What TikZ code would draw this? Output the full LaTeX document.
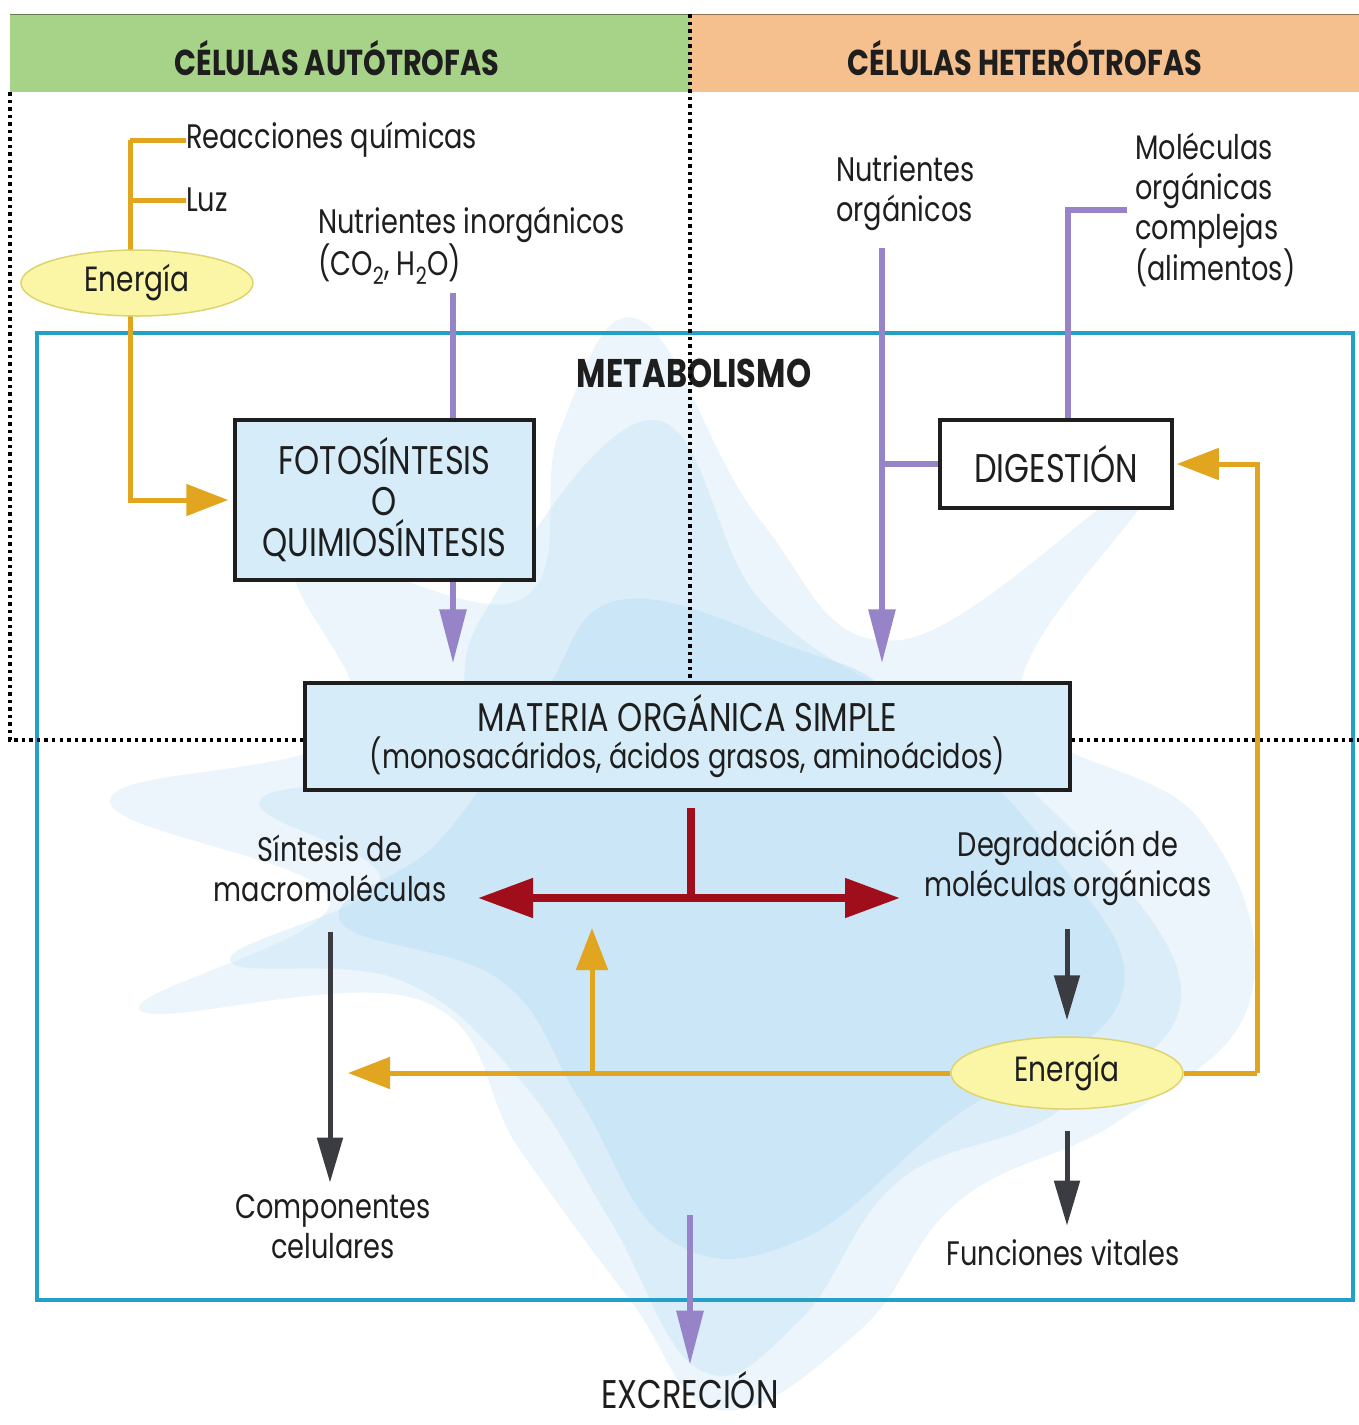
\documentclass[tikz,border=0pt]{standalone}
\usepackage{fontspec}
\setmainfont{Poppins}[FakeStretch=0.8]
\usetikzlibrary{arrows.meta,shapes.geometric}

\definecolor{autogreen}{RGB}{166,211,135}
\definecolor{heteroorange}{RGB}{246,192,142}
\definecolor{energyline}{RGB}{226,165,32}
\definecolor{matterline}{RGB}{150,131,200}
\definecolor{metaframe}{RGB}{34,160,200}
\definecolor{splitred}{RGB}{160,14,28}
\definecolor{flowgray}{RGB}{58,60,66}
\definecolor{energyfill}{RGB}{250,246,165}
\definecolor{energyedge}{RGB}{222,212,110}
\definecolor{cellblue}{RGB}{186,222,244}
\definecolor{boxblue}{RGB}{214,237,249}
\definecolor{inktext}{RGB}{30,30,30}

\newcommand\capsize{\fontsize{40}{41}\selectfont}

\begin{document}
\begin{tikzpicture}[x=1pt,y=-1pt,
  txt/.style={font=\fontsize{34}{40}\selectfont, text=inktext, inner sep=0pt},
  capstxt/.style={font=\capsize, text=inktext, inner sep=0pt},
  headtxt/.style={font=\bfseries\fontsize{36}{40}\selectfont, text=inktext, inner sep=0pt},
  procbox/.style={draw=inktext, line width=3.5pt, fill=boxblue, align=center, text=inktext, inner sep=0pt},
  energy/.style={txt, font=\fontsize{35}{40}\selectfont, ellipse, draw=energyedge,
    fill=energyfill, line width=1.5pt, minimum width=232pt, minimum height=66pt},
  eflow/.style={energyline, line width=5pt},
  mflow/.style={matterline, line width=6pt},
  rflow/.style={splitred, line width=8pt},
  gflow/.style={flowgray, line width=5pt},
  etip/.style={-{Triangle[length=42pt,width=31pt]}},
  mtip/.style={-{Triangle[length=54pt,width=26pt]}},
  rtip/.style={-{Triangle[length=55pt,width=38pt]}},
  gtip/.style={-{Triangle[length=45pt,width=25pt]}},
  dots/.style={black, line width=3.5pt, dash pattern=on 3.5pt off 4pt},
]
\useasboundingbox (0,0) rectangle (1359,1425);
\fill[white] (0,0) rectangle (1359,1425);

% soft cell silhouette behind the scheme, in nested layers
\fill[cellblue, opacity=0.28] plot[smooth cycle, tension=0.7] coordinates {
  (640,320) (760,520) (900,640) (1150,480) (1020,700) (1200,820) (1250,1000)
  (1120,1120) (960,1200) (860,1330) (720,1410) (630,1300) (520,1150) (420,1000)
  (140,1010) (330,900) (110,800) (350,730) (300,560) (520,600) (560,430)};
\fill[cellblue, opacity=0.33] plot[smooth cycle, tension=0.7] coordinates {
  (650,420) (760,600) (900,700) (1000,760) (1180,980) (1060,1110) (900,1180)
  (800,1320) (700,1370) (610,1220) (520,1080) (400,980) (230,960) (380,880)
  (260,800) (450,760) (480,620)};
\fill[cellblue, opacity=0.45] plot[smooth cycle, tension=0.7] coordinates {
  (620,600) (800,650) (900,700) (1050,850) (1120,1000) (950,1120) (800,1240)
  (670,1240) (580,1100) (500,980) (340,920) (440,840) (540,700)};

% column headers
\fill[autogreen] (10,14) rectangle (690,92);
\fill[heteroorange] (690,14) rectangle (1359,92);
\draw[autogreen!60!black, line width=1.5pt] (10,14.5) -- (690,14.5);
\draw[heteroorange!60!black, line width=1.5pt] (690,14.5) -- (1359,14.5);
\node[headtxt] (autohead) at (337,58) {CÉLULAS AUTÓTROFAS};
\node[headtxt] (heterohead) at (1025,58) {CÉLULAS HETERÓTROFAS};

% metabolism frame
\draw[metaframe, line width=4.5pt] (37,333) rectangle (1353,1300);
\node[headtxt, font=\bfseries\fontsize{40}{44}\selectfont] (metab) at (694,373) {METABOLISMO};

% labels
\node[txt, anchor=west] (reac) at (186,140) {Reacciones químicas};
\node[txt, anchor=west] (luz) at (186,200) {Luz};
\node[txt, anchor=west, align=left] (nutinorg) at (318,246)
  {Nutrientes inorgánicos\\(CO\textsubscript{2}, H\textsubscript{2}O)};
\node[txt, anchor=west, align=left] (nutorg) at (836,193) {Nutrientes\\orgánicos};
\node[txt, anchor=west, align=left] (molcomp) at (1135,210)
  {Moléculas\\orgánicas\\complejas\\(alimentos)};
\node[txt, align=center] (sintesis) at (330,868) {Síntesis de\\macromoléculas};
\node[txt, align=center] (degrad) at (1068,868) {Degradación de\\moléculas orgánicas};
\node[txt, align=center] (compon) at (333,1227) {Componentes\\celulares};
\node[txt] (funciones) at (1063,1253) {Funciones vitales};
\node[capstxt, anchor=base] (excrecion) at (690,1408) {EXCRECIÓN};

% anchor points of the flows
\coordinate (ebus) at (130,140);
\coordinate (ebusluz) at (130,200);
\coordinate (inorgin) at (453,293);
\coordinate (orgin) at (882,248);
\coordinate (compin) at (1127,210);
\coordinate (compdown) at (1068,210);
\coordinate (redtop) at (691,808);
\coordinate (redjoin) at (691,898);
\coordinate (redleft) at (478,898);
\coordinate (redright) at (900,898);
\coordinate (eright) at (1257,1073);
\coordinate (eleft) at (348,1073);
\coordinate (ebranch) at (592,1073);
\coordinate (eup) at (592,928);
\coordinate (excfrom) at (690,1215);

% process boxes
\node[procbox, font=\capsize, minimum width=299pt, minimum height=160pt] (foto) at (384.5,500)
  {FOTOSÍNTESIS\\O\\QUIMIOSÍNTESIS};
\node[procbox, font=\capsize, fill=white, minimum width=232pt, minimum height=88pt] (dig) at (1056,464)
  {DIGESTIÓN};
\node[procbox, font=\fontsize{34}{37}\selectfont, minimum width=765pt, minimum height=107pt] (materia) at (687.5,736.5)
  {{\capsize MATERIA ORGÁNICA SIMPLE}\\(monosacáridos, ácidos grasos, aminoácidos)};

% region borders
\draw[dots] (10,92) -- (10,740) -- (materia.west |- 0,740);
\draw[dots] (690,14) -- (690,0 |- materia.north);
\draw[dots] (materia.east |- 0,740) -- (1359,740);

% energy for autotrophs
\draw[eflow] (ebus) -- (reac.west);
\draw[eflow] (ebusluz) -- (luz.west);
\draw[eflow, etip, shorten >=5pt] (ebus) |- (foto.west);
\node[energy] (energyA) at (137,283) {Energía};

% matter inflow
\draw[mflow] (inorgin) -- (inorgin |- foto.north);
\draw[mflow, mtip, shorten >=18pt] (inorgin |- foto.south) -- (inorgin |- materia.north);
\draw[mflow, mtip, shorten >=18pt] (orgin) -- (orgin |- materia.north);
\draw[mflow] (orgin |- dig.west) -- (dig.west);
\draw[mflow] (compin) -- (compdown) -- (compdown |- dig.north);

% split of simple organic matter
\draw[rflow] (redtop) -- (redjoin);
\draw[rflow, rtip] (redjoin) -- (redleft);
\draw[rflow, rtip] (redjoin) -- (redright);

% catabolism and anabolism
\node[energy, minimum height=72pt] (energyB) at (1067,1073) {Energía};
\draw[gflow, gtip, shorten <=30pt, shorten >=12pt] (sintesis.south -| 330,0) -- (compon.north -| 330,0);
\draw[gflow, gtip, shorten <=23pt, shorten >=16pt] (degrad.south -| energyB.north) -- (energyB.north);
\draw[gflow, gtip, shorten <=21pt, shorten >=14pt] (energyB.south) -- (energyB.south |- funciones.north);
\draw[eflow] (energyB.east) -- (eright);
\draw[eflow, etip, shorten >=3pt] (eright) |- (dig.east);
\draw[eflow, etip] (energyB.west) -- (eleft);
\draw[eflow, etip] (ebranch) -- (eup);

% excretion
\draw[mflow, mtip, shorten >=6pt] (excfrom) -- (excrecion.north);
\end{tikzpicture}
\end{document}
